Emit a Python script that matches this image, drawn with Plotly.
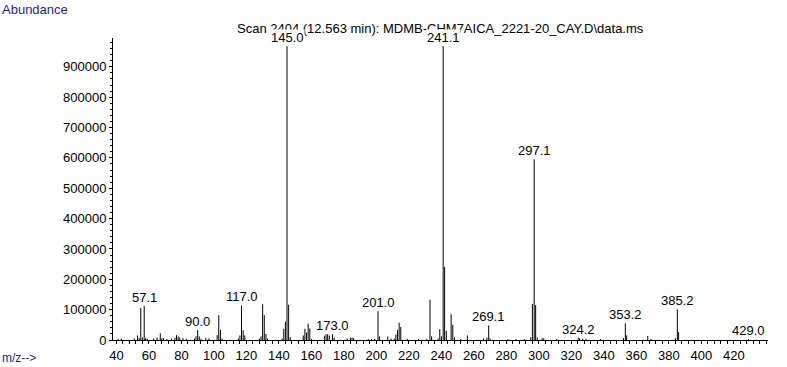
import plotly.graph_objects as go

title_text = "Scan 2404 (12.563 min): MDMB-CHM7AICA_2221-20_CAY.D\\data.ms"

mz = [41, 43, 51, 53, 54, 55, 56, 57.1, 58, 59, 63, 65, 67, 68, 69, 71, 74, 76, 77, 78, 79, 81, 83,
      88, 89, 90.0, 91, 92, 95, 97, 102, 103, 104, 105, 115, 116, 117.0, 118, 119, 128, 129, 130,
      131, 132, 133, 142, 143, 144, 145.0, 146, 147, 155, 156, 157, 158, 159, 160, 168, 169, 170,
      171, 173.0, 174, 182, 184, 185, 186, 195, 197, 199, 201.0, 202, 207, 209, 211, 212, 213, 214,
      215, 219, 226, 231, 233, 234, 238, 239, 240, 241.1, 242, 243, 246, 247, 248, 252, 256, 266,
      268, 269.1, 270, 281, 286, 291, 295, 296, 297.1, 298, 299, 302, 303, 311, 324.2, 325, 327,
      329, 338, 352, 353.2, 354, 367, 369, 384, 385.2, 386, 429.0]
abundance = [4000, 5000, 5000, 15000, 6000, 106000, 8000, 113000, 6000, 4000, 5000, 8000, 22000,
             6000, 6000, 4000, 5000, 7000, 16000, 12000, 8000, 6000, 4000,
             5000, 12000, 33000, 12000, 4000, 6000, 6000, 16000, 82000, 34000, 5000, 5000, 15000,
             114000, 32000, 15000, 5000, 12000, 118000,
             82000, 20000, 5000, 5000, 37000, 60000, 968000, 116000, 9000, 15000, 37000, 24000,
             54000, 38000, 4000, 14000, 19000, 19000,
             15000, 19000, 8000, 5000, 7000, 8000, 7000, 3000, 3000, 4000, 95000, 12000, 12000,
             5000, 5000, 18000, 33000, 57000,
             43000, 4000, 3000, 4000, 133000, 12000, 5000, 36000, 12000, 968000, 241000, 30000,
             85000, 50000, 8000, 3000, 15000, 5000,
             8000, 48000, 5000, 3000, 3000, 3000, 9000, 119000, 595000, 115000, 8000, 6000, 6000,
             3000, 8000, 6000, 4000,
             4000, 3000, 7000, 55000, 15000, 13000, 4000, 6000, 101000, 26000, 3000]

label_mz = [57.1, 90.0, 117.0, 145.0, 173.0, 201.0, 241.1, 269.1, 297.1, 324.2, 353.2, 385.2, 429.0]

y_tickvals = [0, 100000, 200000, 300000, 400000, 500000, 600000, 700000, 800000, 900000]
x_tickvals = list(range(40, 421, 20))

# stick spectrum
xs, ys = [], []
for m, a in zip(mz, abundance):
    xs += [m, m, None]
    ys += [0, a, None]

fig = go.Figure()
fig.add_trace(go.Scatter(x=xs, y=ys, mode="lines", line=dict(color="black", width=1),
                         hoverinfo="skip", showlegend=False))

FONT = "Liberation Sans, Arial, sans-serif"
NAVY = "#1e1e96"

annotations = [
    dict(text=title_text, xref="paper", yref="paper", x=0.5, y=1.03, xanchor="center",
         yanchor="middle", showarrow=False, font=dict(size=13, color="black", family=FONT)),
]
for lm in label_mz:
    a = abundance[mz.index(lm)]
    annotations.append(dict(text=f"{lm:.1f}", x=lm, y=a, xref="x", yref="y", xanchor="center",
                            yanchor="bottom", yshift=0, showarrow=False, bgcolor="white",
                            borderpad=0, font=dict(size=13, color="black", family=FONT)))
annotations += [
    dict(text="Abundance", xref="paper", yref="paper", x=-113 / 655, y=(340 - 9) / 302,
         xanchor="left", yanchor="middle", showarrow=False,
         font=dict(size=13, color=NAVY, family=FONT)),
    dict(text="m/z-->", xref="paper", yref="paper", x=-113 / 655, y=(340 - 358) / 302,
         xanchor="left", yanchor="middle", showarrow=False,
         font=dict(size=12, color=NAVY, family=FONT)),
]

fig.update_layout(
    width=787, height=367,
    margin=dict(l=113, r=19, t=38, b=27, autoexpand=False),
    paper_bgcolor="white", plot_bgcolor="white",
    font=dict(family=FONT, size=13, color="black"),
    annotations=annotations,
    hovermode=False,
    xaxis=dict(range=[37.9, 441], tickvals=x_tickvals, ticks="outside", ticklen=3,
               tickcolor="black", showline=True, linecolor="black", linewidth=1,
               showgrid=False, zeroline=False, tickfont=dict(size=13), automargin=False,
               minor=dict(dtick=4, tick0=40, ticks="outside", ticklen=3, tickcolor="black",
                          showgrid=False)),
    yaxis=dict(range=[0, 995000], tickvals=y_tickvals, ticktext=[str(v) for v in y_tickvals],
               ticks="outside", ticklen=3, tickcolor="black", showline=True, linecolor="black",
               linewidth=1, showgrid=False, zeroline=False, tickfont=dict(size=13),
               automargin=False,
               minor=dict(dtick=20000, tick0=0, ticks="outside", ticklen=2, tickcolor="black",
                          showgrid=False)),
)

fig.write_html("out.html", config={"displayModeBar": False, "staticPlot": True},
               post_script="document.body.style.margin='0';document.body.style.overflow='hidden';")
